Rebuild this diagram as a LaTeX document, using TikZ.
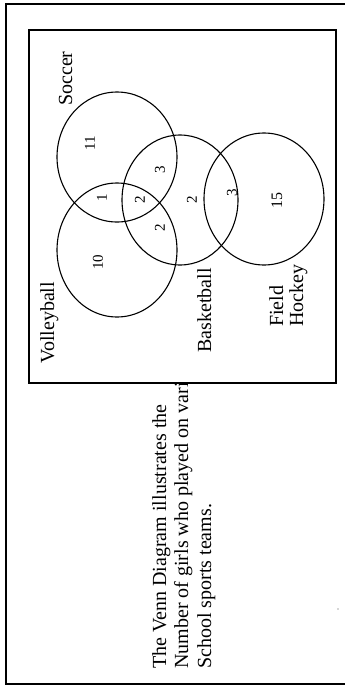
\documentclass[tikz,border=0pt]{standalone}
\usepackage{fontspec}
\setmainfont{Liberation Serif}
\begin{document}
\begin{tikzpicture}[x=1pt,y=-1pt,
  setline/.style={draw=black, line width=1.1pt},
  frame/.style={draw=black, line width=1.4pt},
  lbl/.style={rotate=90, anchor=base west, inner sep=0pt, font=\fontsize{20}{23}\selectfont},
  num/.style={rotate=90, inner sep=0pt, font=\fontsize{15}{18}\selectfont},
  captxt/.style={rotate=90, anchor=base west, inner sep=0pt, font=\fontsize{20}{23}\selectfont}]
  \useasboundingbox (0,0) rectangle (345,686);

  % outer frame (open on the right)
  \draw[frame] (345,4) -- (6,4) -- (6,684) -- (345,684);

  % caption, partly hidden behind the diagram box
  \node[captxt] (cap1) at (166,669) {The Venn Diagram illustrates the};
  \node[captxt] (cap2) at (188,669) {Number of girls who played on vari};
  \node[captxt] (cap3) at (211,669) {School sports teams.};

  % diagram box
  \draw[frame, fill=white] (29,30) rectangle (336,383);

  % the four sets
  \draw[setline] (117,157) ellipse [x radius=60, y radius=65]; % soccer
  \draw[setline] (180,200) ellipse [x radius=58, y radius=65]; % basketball
  \draw[setline] (264,199) ellipse [x radius=60, y radius=66]; % field hockey
  \draw[setline] (117,250) ellipse [x radius=60, y radius=67]; % volleyball

  % set labels
  \node[lbl] (soccer) at (72,106) {Soccer};
  \node[lbl] (volley) at (54,364) {Volleyball};
  \node[lbl] (basket) at (211,353) {Basketball};
  \node[lbl] (field)  at (283,327) {Field};
  \node[lbl] (hockey) at (303,327) {Hockey};

  % region counts
  \node[num] (n11) at (90,143) {11};
  \node[num] (n3a) at (160,170) {3};
  \node[num] (n1)  at (102,198) {1};
  \node[num] (n2c) at (140,200) {2};
  \node[num] (n2v) at (160,228) {2};
  \node[num] (n2b) at (192,200) {2};
  \node[num] (n3h) at (232,193) {3};
  \node[num, font=\fontsize{16}{19}\selectfont] (n15) at (277,200) {15};
  \node[num] (n10) at (98,262) {10};

  % speck
  \fill[black!70] (338,609) circle [radius=0.6];
\end{tikzpicture}
\end{document}
